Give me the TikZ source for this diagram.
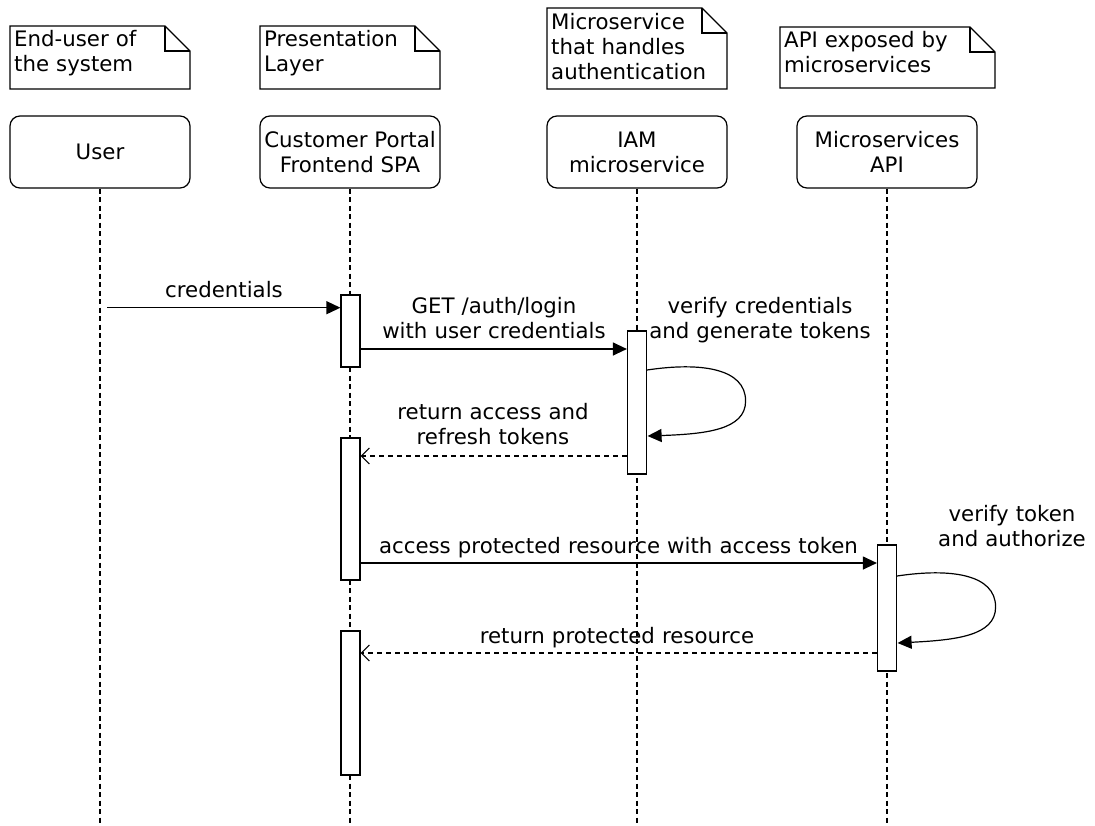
\documentclass[tikz,border=0pt]{standalone}
\usepackage{fontspec}
\setmainfont{DejaVu Sans}
\usetikzlibrary{arrows.meta,calc}

\tikzset{
  pics/dognote/.style 2 args={code={
    \draw[stroke] (0,0) -- (#1-25,0) -- (#1,25) -- (#1,#2) -- (0,#2) -- cycle;
    \draw[stroke] (#1-25,0) -- (#1-25,25) -- (#1,25);
  }},
}

\begin{document}
\begin{tikzpicture}[x=1pt,y=-1pt,
  every node/.style={font=\fontsize{21.3}{25}\selectfont, text=black},
  stroke/.style={line width=1.2pt, draw=black},
  head/.style={stroke, rounded corners=10pt, minimum width=180pt,
    minimum height=72pt, align=center, inner sep=0pt, fill=white},
  notetext/.style={anchor=base west, text width=180pt, align=left, inner sep=0pt},
  lifeline/.style={line width=1.1pt, dash pattern=on 5pt off 3.5pt},
  act/.style={stroke, fill=white, minimum width=19pt, inner sep=0pt},
  call/.style={line width=1.2pt, -{Triangle[length=14pt,width=13pt]}},
  reply/.style={line width=1.1pt, dash pattern=on 5pt off 4pt,
    -{Straight Barb[length=8pt,width=16pt,line width=1.1pt]}},
  msglabel/.style={anchor=base, text width=600pt, align=center, inner sep=0pt},
]
\useasboundingbox (0,0) rectangle (1095,825);
\fill[white] (0,0) rectangle (1095,825);

% notes above the participants
\pic at (10,26) {dognote={180}{63}};
\node[notetext] (n1) at (14,46.7) {End-user of\\the system};
\pic at (260,26) {dognote={180}{63}};
\node[notetext] (n2) at (264,46.7) {Presentation\\Layer};
\pic at (547,8) {dognote={180}{81}};
\node[notetext] (n3) at (551,29) {Microservice\\that handles\\authentication};
\pic at (780,27) {dognote={215}{61}};
\node[notetext] (n4) at (784,47) {API exposed by\\microservices};

% participants
\node[head] (user) at (100,152) {User};
\node[head] (portal) at (350,152) {Customer Portal\\Frontend SPA};
\node[head] (iam) at (637,152) {IAM\\microservice};
\node[head] (api) at (887,152) {Microservices\\API};

% lifelines
\draw[lifeline] (user.south) -- (user.south |- 0,825);
\draw[lifeline] (portal.south) -- (portal.south |- 0,825);
\draw[lifeline] (iam.south) -- (iam.south |- 0,825);
\draw[lifeline] (api.south) -- (api.south |- 0,825);

% activation bars
\node[act, minimum height=72pt] (a1) at (350.5,331) {};
\node[act, minimum height=143pt] (a2) at (637,402.5) {};
\node[act, minimum height=142pt] (a3) at (350.5,509) {};
\node[act, minimum height=126pt] (a4) at (887,608) {};
\node[act, minimum height=144pt] (a5) at (350.5,703) {};

% messages
\coordinate (u0) at (107,307.7);
\draw[call] (u0) -- (a1.west |- u0);
\node[msglabel] (l1) at (224,297) {credentials};

\draw[call] (a1.east |- 0,349) -- (a2.west |- 0,349);
\node[msglabel] (l2) at (494,313) {GET /auth/login\\with user credentials};

\coordinate (s1) at (a2.east |- 0,370);
\draw[call] (s1) .. controls ($(s1)+(53,-8)$) and ($(s1)+(98.5,-2)$) .. ($(s1)+(98.5,31)$)
  .. controls ($(s1)+(98.5,60)$) and ($(s1)+(58,64)$) .. ($(s1)+(0.5,66)$);
\node[msglabel] (l3) at (760,313) {verify credentials\\and generate tokens};

\draw[reply] (a2.west |- 0,456) -- (a3.east |- 0,456);
\node[msglabel] (l4) at (493,419) {return access and\\refresh tokens};

\draw[call] (a3.east |- 0,563) -- (a4.west |- 0,563);
\node[msglabel] (l5) at (618.5,553) {access protected resource with access token};

\coordinate (s2) at (a4.east |- 0,576);
\draw[call] (s2) .. controls ($(s2)+(53,-8)$) and ($(s2)+(98.5,-2)$) .. ($(s2)+(98.5,31)$)
  .. controls ($(s2)+(98.5,60)$) and ($(s2)+(58,64)$) .. ($(s2)+(0.5,67)$);
\node[msglabel] (l6) at (1012,521) {verify token\\and authorize};

\draw[reply] (a4.west |- 0,653) -- (a5.east |- 0,653);
\node[msglabel] (l7) at (617,643) {return protected resource};
\end{tikzpicture}
\end{document}
